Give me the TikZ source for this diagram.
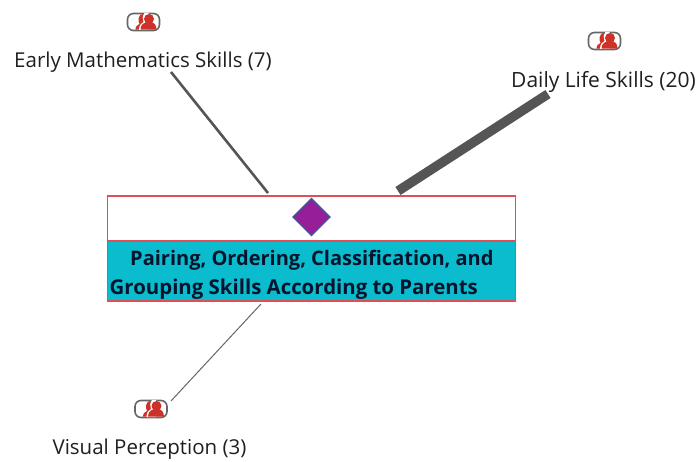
\documentclass[tikz,border=0pt]{standalone}
\usepackage{fontspec}
\setmainfont{Open Sans}
\definecolor{linegray}{RGB}{85,85,85}
\definecolor{iconred}{RGB}{205,50,40}
\definecolor{boxred}{RGB}{222,80,85}
\definecolor{teal1}{RGB}{10,188,205}
\definecolor{dia}{RGB}{150,30,150}
\definecolor{diab}{RGB}{70,80,160}
\definecolor{ttlc}{RGB}{5,20,45}
\tikzset{
 lbl/.style={font=\fontsize{20.5}{22}\selectfont,text=black!88,inner sep=0pt,anchor=center},
 ttl/.style={font=\fontsize{20}{22}\selectfont\bfseries,text=ttlc,inner sep=0pt,anchor=west},
 conn/.style={draw=linegray},
 icon/.pic={
  \draw[draw=black!60,line width=1.6pt,fill=white,rounded corners=6pt] (-16,-8.5) rectangle (16,8.5);
  \fill[iconred] (-8,7.7) .. controls (-8,4) and (-6,3) .. (-4,2) .. controls (-6,-1) and (-5,-8) .. (-1,-8) -- (4,-8) -- (4,7.7) -- cycle;
  \fill[white] (-4.5,8) .. controls (-4.5,3) and (-2,1) .. (0,0) .. controls (-1.5,-3) and (-1,-6) .. (1,-9) -- (5,-9) -- (5,8) -- cycle;
  \fill[iconred] (5.5,-3) circle (5);
  \fill[iconred] (-3,7.7) .. controls (-3,2) and (1,0) .. (5.5,0) .. controls (10,0) and (13,2) .. (13,7.7) -- cycle;
 }
}
\begin{document}
\begin{tikzpicture}[x=1pt,y=-1pt]
\useasboundingbox (0,0) rectangle (698,462);
\node[lbl] (early) at (143,62) {Early Mathematics Skills (7)};
\node[lbl,font=\fontsize{21}{22}\selectfont] (daily) at (603.5,82) {Daily Life Skills (20)};
\node[lbl] (visual) at (149.5,449) {Visual Perception (3)};
\pic at (143.5,22) {icon};
\pic at (604.5,41) {icon};
\pic at (151,409) {icon};
\node[draw=boxred,line width=1.6pt,fill=white,minimum width=408pt,minimum height=45pt,inner sep=0pt] (top) at (311.5,218.5) {};
\node[draw=boxred,line width=1.6pt,fill=teal1,minimum width=408pt,minimum height=60pt,inner sep=0pt] (bot) at (311.5,271) {};
\node[draw=diab,line width=1.3pt,fill=dia,minimum width=26pt,minimum height=26pt,rotate=45,inner sep=0pt] (diamond) at (311.5,217) {};
\node[ttl] (t1) at (130,260) {Pairing, Ordering, Classification, and};
\node[ttl,font=\fontsize{20.4}{22}\selectfont\bfseries] (t2) at (109.5,289) {Grouping Skills According to Parents};
\coordinate (e1) at (171,72);
\coordinate (e2) at (268,193);
\coordinate (d1) at (548,94);
\coordinate (d2) at (398,191);
\coordinate (v1) at (171,401);
\coordinate (v2) at (261,304);
\draw[conn,line width=2.6pt] (e1) -- (e2);
\draw[conn,line width=9.5pt] (d1) -- (d2);
\draw[conn,line width=1pt,draw=black!60] (v1) -- (v2);
\end{tikzpicture}
\end{document}
